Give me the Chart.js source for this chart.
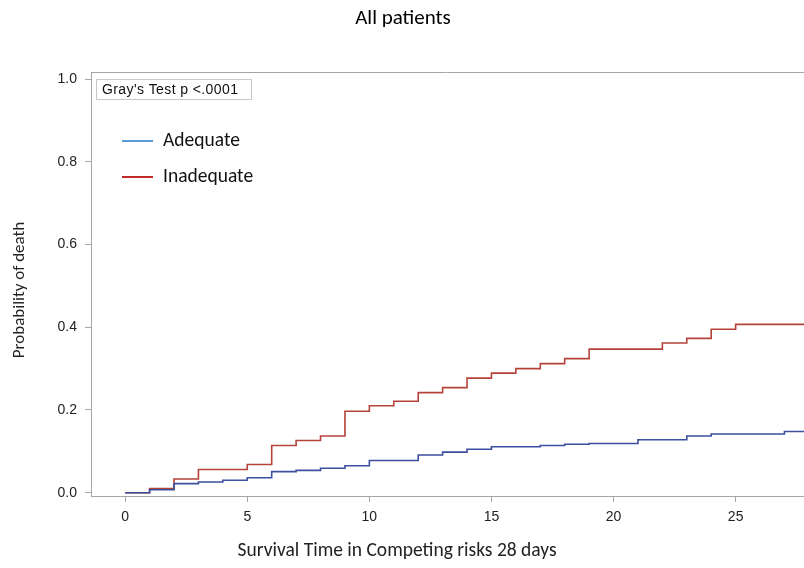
<!DOCTYPE html>
<html>
<head>
<meta charset="utf-8">
<script src="https://cdn.jsdelivr.net/npm/chart.js@4/dist/chart.umd.min.js"></script>
<style>
  html, body { margin: 0; padding: 0; background: #fff; }
  #wrap { width: 804px; height: 568px; }
</style>
</head>
<body>
<div id="wrap"><canvas id="cif"></canvas></div>
<script>
(function(){

    // day of each step and the cumulative incidence after it
    var inadequateDays = [0, 1, 2, 3, 5, 6, 7, 8, 9, 10, 11, 12, 13, 14, 15, 16, 17, 18, 19, 22, 23, 24, 25, 28];
    var inadequateCif  = [0, 0.010, 0.033, 0.056, 0.068, 0.114, 0.126, 0.137, 0.197, 0.210, 0.221, 0.242, 0.254, 0.277, 0.289, 0.300, 0.312, 0.324, 0.347, 0.362, 0.373, 0.395, 0.407, 0.407];

    var adequateDays = [0, 1, 2, 3, 4, 5, 6, 7, 8, 9, 10, 12, 13, 14, 15, 17, 18, 19, 21, 23, 24, 27, 28];
    var adequateCif  = [0, 0.007, 0.022, 0.026, 0.030, 0.036, 0.051, 0.054, 0.059, 0.065, 0.078, 0.091, 0.098, 0.105, 0.111, 0.114, 0.117, 0.119, 0.128, 0.137, 0.142, 0.148, 0.148];

    var xTicks = [0, 5, 10, 15, 20, 25];
    var yTicks = [0, 0.2, 0.4, 0.6, 0.8, 1.0];
    var seriesNames = ["Adequate", "Inadequate"];

    var TITLE_FONT = "Carlito, Lato, 'Open Sans', sans-serif";
    var TICK_FONT = "'Liberation Sans', Arial, sans-serif";

    function _toPoints(days, values){
        return days.map(function(d, i){ return { x: d, y: values[i] }; });
    }

    // titles, legend, p-value box and the top frame line
    var _decorations = {
        id: "decorations",
        afterDraw: function(chart){
            var ctx = chart.ctx;
            var area = chart.chartArea;
            ctx.save();

            ctx.strokeStyle = "#a6a6a6";
            ctx.lineWidth = 1;
            ctx.beginPath();
            ctx.moveTo(area.left, area.top + 0.5);
            ctx.lineTo(area.right, area.top + 0.5);
            ctx.stroke();

            ctx.fillStyle = "#000";
            ctx.textAlign = "center";
            ctx.textBaseline = "middle";
            ctx.font = "21px " + TITLE_FONT;
            ctx.fillText("All patients", 403, 19);

            ctx.font = "19.5px " + TITLE_FONT;
            ctx.fillStyle = "#222";
            ctx.fillText("Survival Time in Competing risks 28 days", 397, 551);

            ctx.font = "17px " + TITLE_FONT;
            ctx.save();
            ctx.translate(20, 290);
            ctx.rotate(-Math.PI / 2);
            ctx.fillText("Probability of death", 0, 0);
            ctx.restore();

            // p-value box
            ctx.strokeStyle = "#c8c8c8";
            ctx.strokeRect(96.5, 79.5, 155, 20);
            ctx.fillStyle = "#111";
            ctx.textAlign = "left";
            ctx.font = "14px " + TICK_FONT;
            ctx.letterSpacing = "0.4px";
            ctx.fillText("Gray's Test p <.0001", 102, 90);
            ctx.letterSpacing = "0px";

            // legend
            var legendColors = ["#5b9bd5", "#c0282a"];
            ctx.font = "19.5px " + TITLE_FONT;
            ctx.lineWidth = 2;
            for(var i = 0; i < seriesNames.length; i++){
                var ly = 141 + i * 36;
                ctx.strokeStyle = legendColors[i];
                ctx.beginPath();
                ctx.moveTo(122, ly);
                ctx.lineTo(153, ly);
                ctx.stroke();
                ctx.fillStyle = "#111";
                ctx.fillText(seriesNames[i], 163, ly);
            }
            ctx.restore();
        }
    };

    function _drawChart(){
        new Chart(document.getElementById("cif").getContext("2d"), {
            type: "line",
            data: {
                datasets: [
                    {
                        label: seriesNames[0],
                        data: _toPoints(adequateDays, adequateCif),
                        borderColor: "#3d4f9f",
                        borderWidth: 1.6,
                        stepped: "before",
                        pointRadius: 0
                    },
                    {
                        label: seriesNames[1],
                        data: _toPoints(inadequateDays, inadequateCif),
                        borderColor: "#b5433a",
                        borderWidth: 1.6,
                        stepped: "before",
                        pointRadius: 0
                    }
                ]
            },
            options: {
                responsive: true,
                maintainAspectRatio: false,
                animation: false,
                layout: { padding: { top: 72, left: 0, right: 0, bottom: 0 } },
                plugins: {
                    legend: { display: false },
                    title: { display: false },
                    tooltip: { enabled: false }
                },
                scales: {
                    x: {
                        type: "linear",
                        min: -1.4,
                        max: 27.8,
                        afterBuildTicks: function(scale){
                            scale.ticks = xTicks.map(function(v){ return { value: v }; });
                        },
                        afterFit: function(scale){ scale.height = 72; },
                        border: { color: "#a6a6a6", width: 1 },
                        grid: { drawOnChartArea: false, tickLength: 6, color: "#a6a6a6" },
                        ticks: {
                            padding: 7,
                            color: "#222",
                            font: { family: TICK_FONT, size: 14 },
                            callback: function(v){ return String(v); }
                        }
                    },
                    y: {
                        min: -0.008,
                        max: 1.017,
                        afterBuildTicks: function(scale){
                            scale.ticks = yTicks.map(function(v){ return { value: v }; });
                        },
                        afterFit: function(scale){ scale.width = 91; },
                        border: { color: "#a6a6a6", width: 1 },
                        grid: { drawOnChartArea: false, tickLength: 6, color: "#a6a6a6" },
                        ticks: {
                            padding: 8,
                            color: "#222",
                            font: { family: TICK_FONT, size: 14 },
                            callback: function(v){ return v.toFixed(1); }
                        }
                    }
                }
            },
            plugins: [_decorations]
        });
    }

    window.onload = function(){
        _drawChart();
    };

})();
</script>
</body>
</html>
